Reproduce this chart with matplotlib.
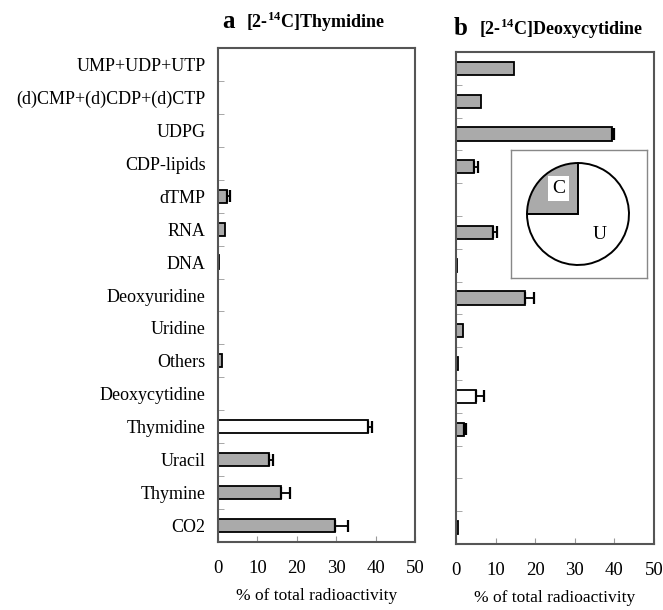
import matplotlib
matplotlib.use("Agg")
import matplotlib.pyplot as plt
import numpy as np

plt.rcParams['font.family'] = ['Liberation Serif', 'DejaVu Serif']
plt.rcParams['mathtext.fontset'] = 'custom'
plt.rcParams['mathtext.rm'] = 'Liberation Serif'
plt.rcParams['mathtext.bf'] = 'Liberation Serif:bold'

categories = ['UMP+UDP+UTP', '(d)CMP+(d)CDP+(d)CTP', 'UDPG', 'CDP-lipids', 'dTMP',
              'RNA', 'DNA', 'Deoxyuridine', 'Uridine', 'Others', 'Deoxycytidine',
              'Thymidine', 'Uracil', 'Thymine', 'CO2']

thy_values = [0, 0, 0, 0, 2.3, 1.8, 0.3, 0, 0, 0.9, 0, 38.1, 12.9, 16.0, 29.7]
thy_errors = [0, 0, 0, 0, 0.7, 0, 0, 0, 0, 0, 0, 1.0, 1.1, 2.3, 3.3]
thy_substrate = 'Thymidine'

dcyd_values = [14.6, 6.2, 39.5, 4.5, 0, 9.3, 0.3, 17.3, 1.7, 0.5, 5.0, 2.0, 0, 0, 0.5]
dcyd_errors = [0, 0, 0.5, 1.0, 0, 1.0, 0, 2.3, 0, 0, 2.0, 0.4, 0, 0, 0]
dcyd_substrate = 'Deoxycytidine'

pie_labels = ['C', 'U']
pie_values = [25, 75]

xticks = [0, 10, 20, 30, 40, 50]

fig = plt.figure(figsize=(6.63, 6.10), dpi=100)

W, H = 663.0, 610.0
def ax_rect(x0, y0, x1, y1):
    return [x0 / W, 1 - y1 / H, (x1 - x0) / W, (y1 - y0) / H]

gray = '#aaaaaa'
spine_col = '#555555'

def draw_panel(ax, values, errors, substrate, show_labels):
    n = len(categories)
    y = np.arange(n)
    colors = ['white' if c == substrate else gray for c in categories]
    ax.barh(y, values, height=0.4, color=colors, edgecolor='black', linewidth=1.3, zorder=2)
    for yi, v, e in zip(y, values, errors):
        if e > 0:
            ax.errorbar(v, yi, xerr=[[0], [e]], fmt='none', ecolor='black',
                        elinewidth=1.3, capsize=4.5, capthick=1.6, zorder=3)
    ax.set_ylim(n - 0.5, -0.5)
    ax.set_xlim(0, 50)
    ax.set_xticks(xticks)
    ax.set_xticklabels([str(t) for t in xticks], fontsize=13.5)
    ax.set_yticks(y)
    if show_labels:
        ax.set_yticklabels(categories, fontsize=13)
    else:
        ax.set_yticklabels([])
    ax.set_yticks(np.arange(n + 1) - 0.5, minor=True)
    ax.tick_params(axis='y', which='major', length=0, pad=9)
    ax.tick_params(axis='y', which='minor', direction='in', length=4, color='#999999')
    ax.tick_params(axis='x', direction='in', length=4, color='#999999', pad=13)
    for s in ax.spines.values():
        s.set_color(spine_col)
        s.set_linewidth(1.5)
    ax.set_xlabel('% of total radioactivity', fontsize=12.5, labelpad=8)

ax_a = fig.add_axes(ax_rect(218, 48, 415, 542))
draw_panel(ax_a, thy_values, thy_errors, thy_substrate, True)

ax_b = fig.add_axes(ax_rect(456, 52, 654, 544))
draw_panel(ax_b, dcyd_values, dcyd_errors, dcyd_substrate, False)

# Titles
fig.text(222 / W, 1 - 28 / H, 'a', fontsize=18, fontweight='bold', ha='left', va='baseline')
fig.text(246 / W, 1 - 28 / H, r'[2-$^{\mathbf{14}}$C]Thymidine', fontsize=13,
         fontweight='bold', ha='left', va='baseline')
fig.text(454 / W, 1 - 35 / H, 'b', fontsize=18, fontweight='bold', ha='left', va='baseline')
fig.text(479 / W, 1 - 35 / H, r'[2-$^{\mathbf{14}}$C]Deoxycytidine', fontsize=13,
         fontweight='bold', ha='left', va='baseline')

# Inset box
box = fig.add_axes(ax_rect(511, 150, 647, 278))
box.set_xticks([])
box.set_yticks([])
for s in box.spines.values():
    s.set_color('#888888')
    s.set_linewidth(1.0)

pie_ax = fig.add_axes(ax_rect(578 - 52, 214 - 52, 578 + 52, 214 + 52))
pie_ax.pie(pie_values, colors=[gray, 'white'], startangle=90, counterclock=True,
           wedgeprops=dict(edgecolor='black', linewidth=1.4))
pie_ax.set_xlim(-1.02, 1.02)
pie_ax.set_ylim(-1.02, 1.02)
pie_ax.set_aspect('equal')
pie_ax.text(-0.38, 0.5, pie_labels[0], fontsize=14, ha='center', va='center',
            bbox=dict(facecolor='white', edgecolor='none', pad=3))
pie_ax.text(0.42, -0.4, pie_labels[1], fontsize=14, ha='center', va='center')

fig.savefig('out.png', dpi=100)
